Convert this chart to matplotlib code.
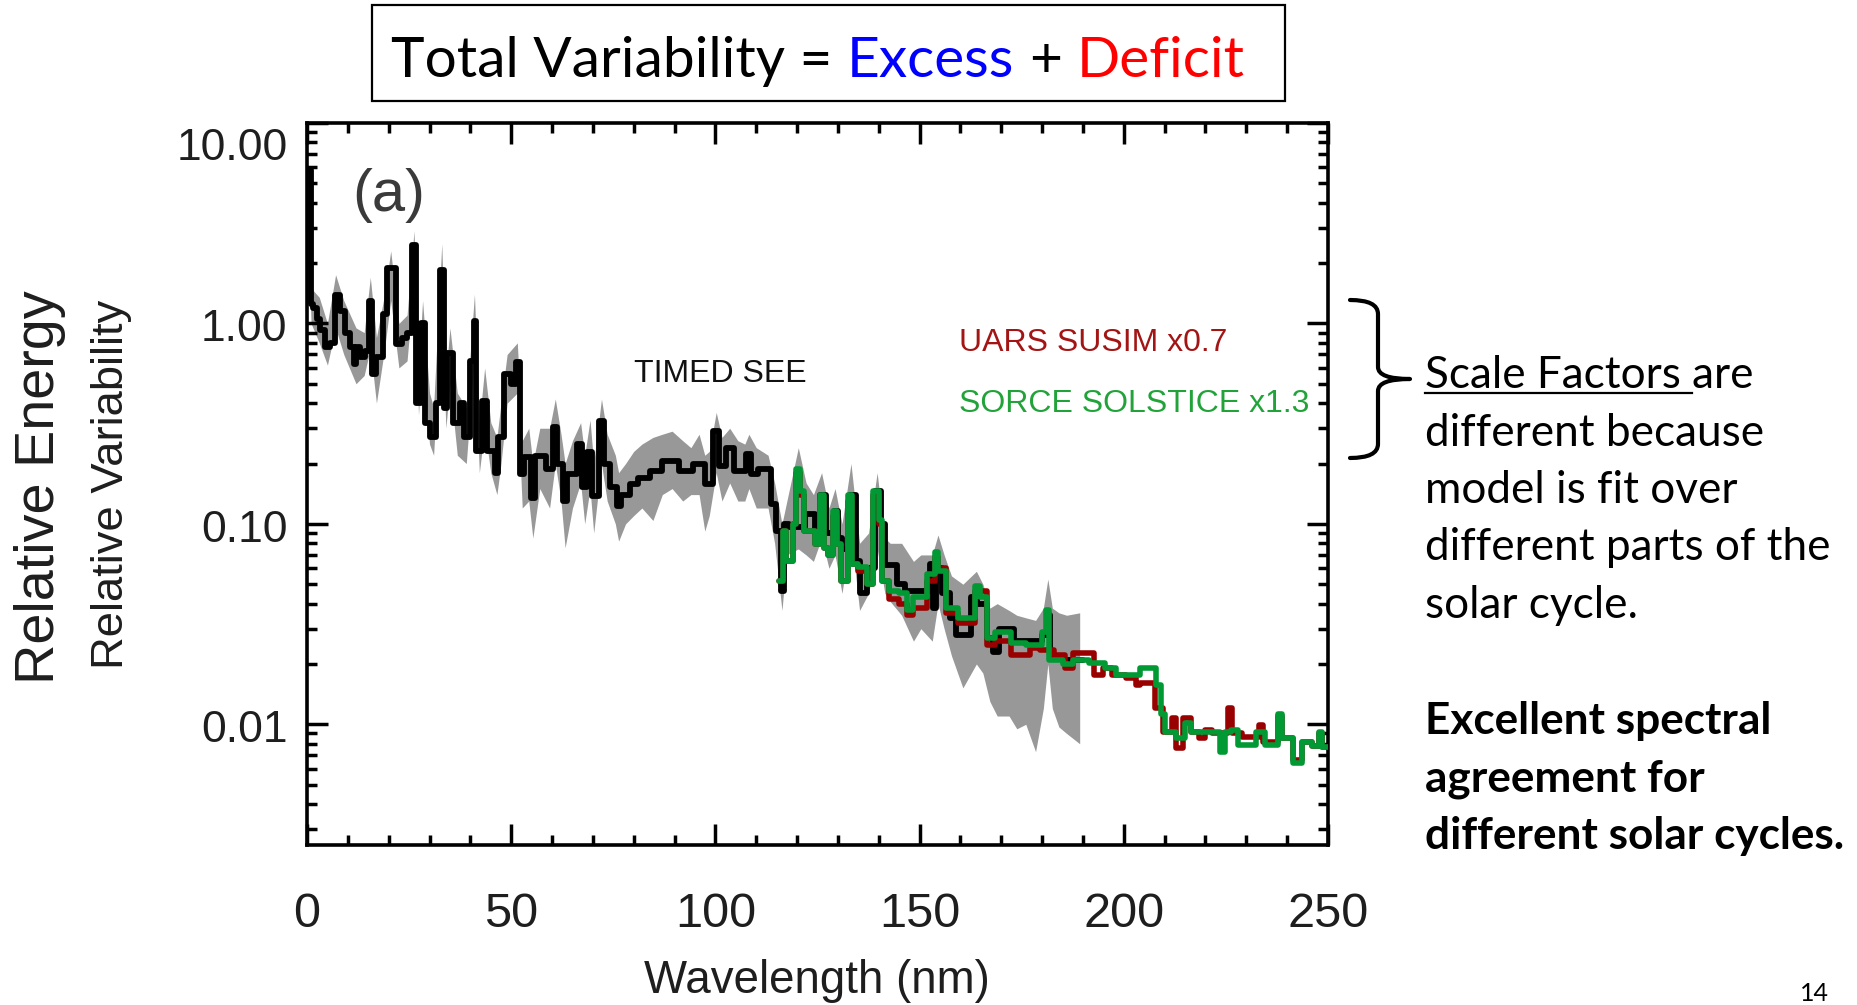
import numpy as np
import matplotlib
matplotlib.use('Agg')
import matplotlib.pyplot as plt
from matplotlib import font_manager
from matplotlib.font_manager import FontProperties
from matplotlib.patches import PathPatch, Rectangle
from matplotlib.path import Path
from matplotlib.ticker import MultipleLocator, LogLocator, FixedLocator, NullFormatter

W, H = 1857, 1005

# TIMED SEE (black): start of each bin (nm) and value, last bin ends at see_end
see_wl = [0, 1, 1.5, 2.5, 3.2, 4.4, 5.6, 6.9, 8.1, 9.3, 10.5, 11.5, 12, 13, 14.2, 15.2, 16, 17,
          18.5, 19.5, 21.9, 23.2, 24.4, 25.8, 26.6, 27.8, 28.8, 30.2, 31.5, 32.5, 33.5, 34.2,
          35.8, 37.5, 38.5, 40, 40.8, 41.5, 42.8, 44, 46, 46.8, 48.3, 50, 51.2, 52.2, 53.2,
          54.8, 55.8, 58.5, 60.3, 61.3, 62.7, 63.7, 66, 67.3, 68.5, 69.8, 71.5, 72.8, 74.2,
          76, 77, 79, 81, 84, 87, 91, 94.5, 97.5, 99.5, 100.8, 102.5, 104.5, 107.5, 108.7,
          110.5, 113.5, 114.8, 116, 116.8, 118, 122, 124.5, 125.5, 127, 129, 130, 131, 133,
          134.5, 135.5, 137, 139, 140.5, 141.5, 144.5, 146.5, 152.5, 153.2, 154, 155.5,
          157.5, 159, 162.5, 164, 166.5, 168, 169.5, 173, 180, 181.3, 182, 185]
see_val = [5.8, 1.25, 1.2, 1.05, 0.93, 0.76, 0.8, 1.38, 1.16, 0.9, 0.76, 0.63, 0.76, 0.68, 0.73,
           1.3, 0.56, 0.68, 1.12, 1.9, 0.79, 0.85, 0.9, 2.45, 0.4, 1.0, 0.32, 0.27, 0.4, 1.84,
           0.38, 0.71, 0.32, 0.4, 0.27, 0.65, 1.03, 0.23, 0.41, 0.23, 0.18, 0.27, 0.56, 0.5,
           0.64, 0.178, 0.215, 0.135, 0.219, 0.187, 0.303, 0.2, 0.13, 0.177, 0.25, 0.152,
           0.228, 0.138, 0.327, 0.2, 0.152, 0.123, 0.14, 0.158, 0.17, 0.184, 0.207, 0.184,
           0.2, 0.158, 0.29, 0.195, 0.24, 0.184, 0.223, 0.177, 0.187, 0.125, 0.092, 0.046,
           0.1, 0.097, 0.112, 0.092, 0.14, 0.09, 0.116, 0.085, 0.075, 0.14, 0.065, 0.045,
           0.06, 0.146, 0.1, 0.062, 0.05, 0.046, 0.063, 0.038, 0.06, 0.045, 0.034, 0.028,
           0.043, 0.04, 0.027, 0.023, 0.03, 0.026, 0.028, 0.035, 0.022, 0.021]
see_end = 190

# uncertainty band around TIMED SEE
band_wl = [0, 1, 3, 5, 7, 9, 12, 14, 15.5, 17, 19, 20.5, 22.5, 24.5, 26.2, 27.3, 28.3, 30, 31,
           33, 34, 35, 36.8, 39, 41, 42.2, 43.5, 45, 46.5, 47.5, 49, 51.5, 52.7, 54.3, 55.3,
           57, 59.4, 60.8, 62.2, 63.2, 65, 67, 68, 69.3, 70.2, 72.1, 73.5, 75.5, 76.3, 78, 80,
           82, 84.7, 87, 89.4, 92, 94, 96, 97.4, 98.5, 100.2, 101.6, 103.5, 105.5, 107.2,
           108.2, 110, 112.9, 114.5, 116.3, 117.5, 120.3, 122.2, 124, 126, 127.8, 129.3, 131,
           133.2, 135.3, 137.5, 139.6, 141.5, 142.8, 145.6, 148.5, 150.3, 153.1, 154.5, 156,
           157.8, 160.6, 163.9, 165.5, 167.2, 169, 171.9, 173.8, 176, 178.4, 180.3, 181.4,
           182.5, 184.1, 186, 189.2]
band_hi = [7.0, 1.5, 1.35, 1.0, 1.75, 1.3, 0.95, 0.9, 1.7, 0.85, 1.4, 2.3, 1.0, 1.1, 2.9, 0.6,
           1.3, 0.45, 0.38, 2.5, 0.55, 0.95, 0.45, 0.38, 1.4, 0.32, 0.6, 0.32, 0.27, 0.4, 0.7,
           0.8, 0.26, 0.3, 0.2, 0.3, 0.3, 0.42, 0.28, 0.2, 0.26, 0.32, 0.22, 0.33, 0.2, 0.42,
           0.28, 0.22, 0.18, 0.2, 0.23, 0.25, 0.27, 0.28, 0.29, 0.26, 0.24, 0.28, 0.22, 0.23,
           0.36, 0.27, 0.3, 0.26, 0.25, 0.28, 0.24, 0.22, 0.16, 0.1, 0.13, 0.24, 0.16, 0.14,
           0.18, 0.12, 0.15, 0.1, 0.2, 0.08, 0.09, 0.18, 0.085, 0.08, 0.08, 0.065, 0.07, 0.07,
           0.088, 0.07, 0.055, 0.05, 0.058, 0.05, 0.038, 0.04, 0.037, 0.035, 0.034, 0.033,
           0.038, 0.053, 0.038, 0.036, 0.035, 0.036]
band_lo = [4.5, 1.0, 0.8, 0.62, 0.95, 0.7, 0.5, 0.55, 0.75, 0.4, 0.75, 1.3, 0.6, 0.65, 1.6,
           0.35, 0.7, 0.25, 0.22, 1.2, 0.3, 0.5, 0.22, 0.2, 0.7, 0.18, 0.3, 0.18, 0.14, 0.2,
           0.4, 0.45, 0.12, 0.13, 0.085, 0.15, 0.12, 0.2, 0.13, 0.076, 0.12, 0.16, 0.1, 0.15,
           0.09, 0.2, 0.13, 0.1, 0.082, 0.1, 0.11, 0.12, 0.104, 0.14, 0.15, 0.13, 0.14, 0.14,
           0.092, 0.11, 0.18, 0.13, 0.16, 0.13, 0.13, 0.15, 0.12, 0.12, 0.08, 0.037, 0.07,
           0.075, 0.07, 0.065, 0.085, 0.06, 0.07, 0.045, 0.09, 0.037, 0.045, 0.075, 0.045,
           0.041, 0.035, 0.026, 0.03, 0.026, 0.04, 0.03, 0.022, 0.0152, 0.02, 0.018, 0.013,
           0.011, 0.011, 0.0095, 0.01, 0.0073, 0.012, 0.02, 0.012, 0.0097, 0.009, 0.008]

# SORCE SOLSTICE x1.3 (green)
sorce_wl = [115.5, 116.5, 117.3, 119, 119.8, 120.8, 121.8, 124.3, 125.5, 126.5, 127.5, 128.8,
            129.8, 130.7, 132.5, 133.5, 135, 137, 138.6, 140, 140.8, 142.5, 145, 147, 148.5,
            151.8, 153.8, 154.6, 156.5, 159.3, 163.5, 164.8, 166.5, 168.5, 172.5, 176, 180,
            181, 181.8, 185, 187.5, 191.5, 195.5, 198, 204, 207.8, 209.2, 210.2, 212.8, 215,
            216.5, 223.5, 224.8, 226.3, 228, 232.3, 234.6, 237.8, 238.7, 241.5, 243.6, 246,
            247.9, 248.5]
sorce_val = [0.052, 0.092, 0.065, 0.1, 0.187, 0.146, 0.092, 0.079, 0.14, 0.076, 0.07, 0.116,
             0.079, 0.052, 0.14, 0.063, 0.061, 0.05, 0.146, 0.104, 0.052, 0.046, 0.045, 0.037,
             0.043, 0.056, 0.072, 0.058, 0.038, 0.034, 0.049, 0.043, 0.027, 0.029, 0.0255,
             0.025, 0.029, 0.037, 0.021, 0.0199, 0.021, 0.0203, 0.0191, 0.0177, 0.019, 0.0158,
             0.0112, 0.0092, 0.0085, 0.0102, 0.0092, 0.0073, 0.0092, 0.0094, 0.0079, 0.0092,
             0.0079, 0.0112, 0.0085, 0.0064, 0.0082, 0.0078, 0.0092, 0.0077]

# UARS SUSIM x0.7 (dark red)
uars_wl = [115.5, 116.5, 117.3, 119, 119.8, 120.8, 121.8, 124.3, 125.5, 126.5, 127.5, 128.8,
           129.8, 130.7, 132.5, 133.5, 135, 137, 138.6, 140, 140.8, 142.5, 145, 147, 148.5,
           151.8, 153.8, 154.6, 156.5, 159.3, 163.5, 164.8, 166.5, 168.5, 172.5, 177, 179.5,
           182.8, 185.5, 187.5, 192.8, 194.8, 197, 200.5, 203, 204, 207.7, 209.5, 211.8,
           212.8, 214.5, 216.5, 218.3, 220, 221.5, 225.5, 226.5, 229, 233, 234, 237.8, 238.7,
           241.5, 243.6, 246, 247.9, 248.5]
uars_val = [0.052, 0.092, 0.065, 0.1, 0.18, 0.14, 0.092, 0.079, 0.13, 0.076, 0.07, 0.11,
            0.079, 0.052, 0.13, 0.063, 0.058, 0.05, 0.14, 0.1, 0.052, 0.042, 0.04, 0.035,
            0.038, 0.052, 0.068, 0.06, 0.036, 0.032, 0.046, 0.046, 0.025, 0.026, 0.0223,
            0.024, 0.0235, 0.0223, 0.019, 0.0228, 0.0177, 0.019, 0.0177, 0.017, 0.0158, 0.016,
            0.012, 0.0092, 0.0107, 0.0076, 0.0107, 0.0092, 0.0085, 0.0094, 0.009, 0.012,
            0.009, 0.0086, 0.0099, 0.0082, 0.011, 0.0085, 0.0066, 0.0082, 0.0078, 0.009,
            0.0077]
sat_end = 250

xtick_vals = [0, 50, 100, 150, 200, 250]
ytick_vals = [0.01, 0.1, 1, 10]
ytick_text = ['0.01', '0.10', '1.00', '10.00']

title_parts = [('Total Variability =', 'black'), ('Excess', '#0000ff'), ('+', 'black'),
               ('Deficit', '#ff0000')]
note_lines = ['Scale Factors are', 'different because', 'model is fit over',
              'different parts of the', 'solar cycle.']
bold_lines = ['Excellent spectral', 'agreement for', 'different solar cycles.']


def have(name):
    try:
        font_manager.findfont(FontProperties(family=name), fallback_to_default=False)
        return True
    except ValueError:
        return False


NARROW = 'Liberation Sans Narrow' if have('Liberation Sans Narrow') else 'Liberation Sans'
HELV = 'Liberation Sans'
SLIDE = 'Lato' if have('Lato') else 'Open Sans'


def fx(x):
    return x / W


def fy(y):
    return 1 - y / H


fig = plt.figure(figsize=(W / 100, H / 100), dpi=100)
ax = fig.add_axes([fx(307), fy(845), 1021 / W, 722 / H])

ax.fill_between(band_wl, band_lo, band_hi, color='#989898', lw=0, zorder=1)
ax.stairs(see_val, see_wl + [see_end], baseline=None, color='black', lw=4.2,
          joinstyle='round', capstyle='round', zorder=2)
ax.stairs(uars_val, uars_wl + [sat_end], baseline=None, color='#990000', lw=4.0,
          joinstyle='round', capstyle='round', zorder=3)
ax.stairs(sorce_val, sorce_wl + [sat_end], baseline=None, color='#009933', lw=4.0,
          joinstyle='round', capstyle='round', zorder=4)

ax.set_yscale('log')
ax.set_xlim(0, 250)
ax.set_ylim(0.0025, 10)
ax.xaxis.set_major_locator(FixedLocator(xtick_vals))
ax.xaxis.set_minor_locator(MultipleLocator(10))
ax.yaxis.set_major_locator(FixedLocator(ytick_vals))
ax.yaxis.set_minor_locator(LogLocator(base=10, subs=np.arange(2, 10), numticks=20))
ax.yaxis.set_minor_formatter(NullFormatter())
ax.tick_params(which='both', direction='in', top=True, right=True,
               labelbottom=False, labelleft=False, width=2.5, color='black')
ax.tick_params(which='major', length=15)
ax.tick_params(which='minor', length=7.5)
for s in ax.spines.values():
    s.set_linewidth(2.6)

for v, lab in zip(ytick_vals, ytick_text):
    dy = -18 if v == 10 else -4.5
    ax.annotate(lab, xy=(0, v), xycoords=('axes fraction', 'data'), xytext=(-14, dy),
                textcoords='offset points', ha='right', va='center', fontsize=32,
                family=HELV, color='#1e1e1e', annotation_clip=False)
for v in xtick_vals:
    ax.annotate(str(v), xy=(v, 0), xycoords=('data', 'axes fraction'), xytext=(0, -50),
                textcoords='offset points', ha='center', va='center', fontsize=35,
                family=NARROW, color='#1e1e1e', annotation_clip=False)

ax.text(0.044, 0.899, '(a)', transform=ax.transAxes, ha='left', va='center', fontsize=43,
        family=HELV, color='#3a3a3a')
ax.text(0.320, 0.652, 'TIMED SEE', transform=ax.transAxes, ha='left', va='center',
        fontsize=23, family=HELV, color='#111111')
ax.text(0.6386, 0.695, 'UARS SUSIM x0.7', transform=ax.transAxes, ha='left', va='center',
        fontsize=23, family=HELV, color='#a31515')
ax.text(0.6386, 0.611, 'SORCE SOLSTICE x1.3', transform=ax.transAxes, ha='left',
        va='center', fontsize=23, family=HELV, color='#22a33a')

fig.canvas.draw()
renderer = fig.canvas.get_renderer()


def text_w(s, **kw):
    t = fig.text(0, 0, s, **kw)
    bb = t.get_window_extent(renderer)
    t.remove()
    return bb


def fit(t, length):
    bb = t.get_window_extent(renderer)
    size = bb.height if t.get_rotation() == 90 else bb.width
    t.set_fontsize(t.get_fontsize() * length / size)


xl = fig.text(fx(817), fy(993), 'Wavelength (nm)', ha='center', va='baseline',
              fontsize=40, family=NARROW, color='#1e1e1e')
fit(xl, 346)
yl1 = fig.text(fx(40), fy(487), 'Relative Energy', rotation=90, ha='center', va='center',
               fontsize=48, family=NARROW, color='#1e1e1e')
fit(yl1, 394)
yl2 = fig.text(fx(112), fy(484), 'Relative Variability', rotation=90, ha='center',
               va='center', fontsize=40, family=NARROW, color='#1e1e1e')
fit(yl2, 370)

# title box
fig.add_artist(Rectangle((fx(372), fy(101)), 913 / W, 96 / H, transform=fig.transFigure,
                         fill=False, lw=1.6, ec='black'))
full_title = ' '.join(p for p, _ in title_parts)
tsize = 40 * 852 / text_w(full_title, fontsize=40, family=SLIDE).width
space = (text_w('a a', fontsize=tsize, family=SLIDE).width
         - text_w('aa', fontsize=tsize, family=SLIDE).width)
x = 391
for part, col in title_parts:
    fig.text(fx(x), fy(77), part, ha='left', va='baseline', fontsize=tsize, family=SLIDE,
             color=col)
    x += text_w(part, fontsize=tsize, family=SLIDE).width + space

# notes on the right
nsize = 40 * 405 / text_w('different parts of the', fontsize=40, family=SLIDE).width
bsize = 40 * 419 / text_w('different solar cycles.', fontsize=40, family=SLIDE,
                          fontweight='bold').width
for i, line in enumerate(note_lines):
    fig.text(fx(1425), fy(388 + 57.5 * i), line, ha='left', va='baseline', fontsize=nsize,
             family=SLIDE, color='black')
for i, line in enumerate(bold_lines):
    fig.text(fx(1425), fy(734 + 57.5 * i), line, ha='left', va='baseline', fontsize=bsize,
             family=SLIDE, fontweight='bold', color='black')
nspace = (text_w('a a', fontsize=nsize, family=SLIDE).width
          - text_w('aa', fontsize=nsize, family=SLIDE).width)
ul = text_w('Scale Factors', fontsize=nsize, family=SLIDE).width + nspace
fig.add_artist(plt.Line2D([fx(1425), fx(1425 + ul)], [fy(393), fy(393)],
                          transform=fig.transFigure, color='black', lw=1.6))
fig.text(fx(1800), fy(1001), '14', ha='left', va='baseline', fontsize=18, family=SLIDE,
         color='black')

# curly brace
bx0, bx1, btip = 1350, 1378, 1410
by0, bym, by1 = 300, 379, 458
verts = [(bx0, by0), (bx1, by0), (bx1, by0 + 14), (bx1, bym - 12), (bx1, bym), (btip, bym),
         (bx1, bym), (bx1, bym + 12), (bx1, by1 - 14), (bx1, by1), (bx0, by1)]
codes = [Path.MOVETO, Path.CURVE3, Path.CURVE3, Path.LINETO, Path.CURVE3, Path.CURVE3,
         Path.CURVE3, Path.CURVE3, Path.LINETO, Path.CURVE3, Path.CURVE3]
brace = Path([(fx(a), fy(b)) for a, b in verts], codes)
fig.add_artist(PathPatch(brace, transform=fig.transFigure, fill=False, lw=3, ec='black',
                         joinstyle='round', capstyle='round'))

fig.savefig('out.png', dpi=100)
